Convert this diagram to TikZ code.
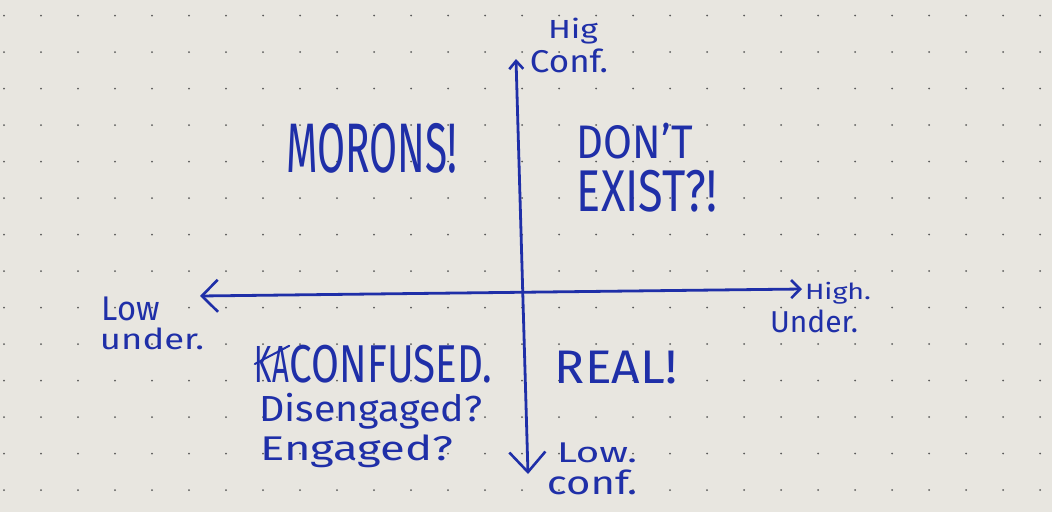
\documentclass[tikz,border=0pt]{standalone}
\usepackage{fontspec}
\setsansfont{Fira Sans}
\usepackage{graphicx}
\usetikzlibrary{arrows.meta}
\definecolor{ink}{HTML}{1F2FA8}
\definecolor{paper}{HTML}{E8E6E0}
\definecolor{dotc}{HTML}{5A5A5A}
\newcommand\hwtxt[3]{\resizebox*{#1pt}{#2pt}{#3}}
\tikzset{
  hw/.style={text=ink, inner sep=0pt, font=\sffamily},
  axis/.style={draw=ink, line width=2.8pt, line cap=round},
}
\begin{document}
\begin{tikzpicture}[x=1pt,y=-1pt]
\fill[paper] (0,0) rectangle (1052,512);
\useasboundingbox (0,0) rectangle (1052,512);
% dot grid
\foreach \i in {0,...,28}{
  \foreach \j in {0,...,13}{
    \fill[dotc] ({4+37*\i},{15.5+36.5*\j}) circle (1.0);
  }
}
% axes
\coordinate (L) at (200,296);
\coordinate (R) at (802,289);
\coordinate (T) at (516,59);
\coordinate (B) at (528,474);
\draw[axis, {Straight Barb[length=16pt,width=32pt,line width=2.6pt]}-{Straight Barb[length=9pt,width=18pt,line width=2.6pt]}] (L) -- (R);
\draw[axis, {Straight Barb[length=20pt,width=36pt,line width=2.6pt]}-{Straight Barb[length=8pt,width=14pt,line width=2.6pt]}] (B) -- (T);
% axis labels
\node[hw] (hig) at (573,31) {\hwtxt{50}{26}{Hig}};
\node[hw] (conf) at (569,61) {\hwtxt{78}{24}{Conf.}};
\node[hw] (low) at (131,309) {\hwtxt{58}{24}{Low}};
\node[hw] (under) at (152,339) {\hwtxt{104}{22}{under.}};
\node[hw] (high) at (838,293) {\hwtxt{66}{22}{High.}};
\node[hw] (Under) at (814,321) {\hwtxt{88}{23}{Under.}};
\node[hw] (lowc) at (597,453) {\hwtxt{80}{20}{Low.}};
\node[hw] (confl) at (592,482) {\hwtxt{90}{25}{conf.}};
% quadrant texts
\node[hw] (morons) at (372,148) {\hwtxt{171}{50}{MORONS!}};
\node[hw] (dont) at (635,141) {\hwtxt{116}{36}{DON'T}};
\node[hw] (exist) at (647,191) {\hwtxt{140}{42}{EXIST?!}};
\node[hw] (ka) at (272,364) {\hwtxt{34}{36}{KA}};
\draw[ink, line width=2pt, line cap=round] (ka.west) -- (ka.north east);
\node[hw] (confused) at (391,364) {\hwtxt{202}{38}{CONFUSED.}};
\node[hw] (dis) at (371,411) {\hwtxt{223}{36}{Disengaged?}};
\node[hw] (eng) at (357,451) {\hwtxt{193}{33}{Engaged?}};
\node[hw] (real) at (616,368) {\hwtxt{122}{33}{REAL!}};
\end{tikzpicture}
\end{document}
